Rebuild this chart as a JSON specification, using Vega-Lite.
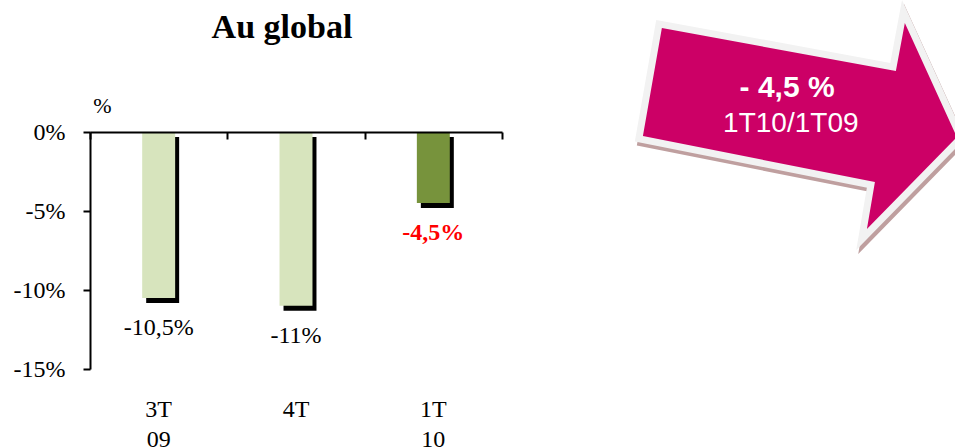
{
  "$schema": "https://vega.github.io/schema/vega-lite/v6.json",
  "autosize": "none",
  "width": 412,
  "height": 237,
  "padding": {"left": 90, "top": 132, "right": 453, "bottom": 79},
  "background": "white",
  "config": {"view": {"stroke": null}},
  "datasets": {
    "bars": [
      {"q": "3T 09", "v": -10.5, "lbl": "-10,5%"},
      {"q": "4T", "v": -11, "lbl": "-11%"},
      {"q": "1T 10", "v": -4.5, "lbl": "-4,5%"}
    ],
    "arrow": [
      {"x": 172.3, "y": 102.5}
    ],
    "notes": [
      {"t": "Au global", "x": 46.6, "y": 139.7, "kind": "title"},
      {"t": "- 4,5 %", "x": 169.2, "y": 114.8, "kind": "value"},
      {"t": "1T10/1T09", "x": 170.1, "y": 100, "kind": "period"}
    ]
  },
  "layer": [
    {
      "data": {"name": "bars"},
      "layer": [
        {
          "mark": {"type": "bar", "color": "black", "xOffset": 4, "yOffset": 5, "width": {"band": 0.24}},
          "encoding": {
            "x": {
              "field": "q", "type": "nominal", "sort": null,
              "scale": {"domain": ["3T 09", "4T", "1T 10"], "paddingInner": 0, "paddingOuter": 0},
              "axis": {"orient": "top", "labels": false, "title": null, "domain": true, "domainColor": "black", "domainWidth": 2, "ticks": true, "tickSize": -7, "tickWidth": 2, "tickColor": "black", "tickBand": "extent", "grid": false, "zindex": 1}
            },
            "y": {
              "field": "v", "type": "quantitative",
              "scale": {"domain": [-15, 0], "nice": false},
              "axis": {"values": [0, -5, -10, -15], "labelExpr": "datum.value + '%'", "grid": false, "domain": true, "domainColor": "black", "domainWidth": 2, "ticks": true, "tickSize": 7, "tickWidth": 2, "tickColor": "black", "labelFont": "Liberation Serif", "labelFontSize": 24, "labelColor": "black", "labelPadding": 18, "labelFlush": false, "labelOverlap": false, "title": "%", "titleAngle": 0, "titleX": 12, "titleY": -27, "titleAlign": "center", "titleBaseline": "middle", "titleFont": "Liberation Serif", "titleFontSize": 22, "titleFontWeight": "normal", "titleColor": "black", "zindex": 1}
            }
          }
        },
        {
          "mark": {"type": "bar", "width": {"band": 0.24}},
          "encoding": {
            "x": {
              "field": "q", "type": "nominal", "sort": null,
              "axis": {"orient": "bottom", "title": null, "domain": false, "ticks": false, "tickSize": 0, "grid": false, "labelPadding": 28, "labelAngle": 0, "labelExpr": "split(datum.label, ' ')", "labelFont": "Liberation Serif", "labelFontSize": 24, "labelColor": "black", "labelLineHeight": 30}
            },
            "y": {"field": "v", "type": "quantitative", "axis": null},
            "color": {"condition": {"test": "datum.q === '1T 10'", "value": "#77933C"}, "value": "#D7E4BD"}
          }
        },
        {
          "transform": [{"filter": "datum.q !== '1T 10'"}],
          "mark": {"type": "text", "dy": 30, "baseline": "middle", "align": "center", "font": "Liberation Serif", "fontSize": 24, "color": "black"},
          "encoding": {
            "x": {"field": "q", "type": "nominal", "sort": null, "axis": null},
            "y": {"field": "v", "type": "quantitative", "axis": null},
            "text": {"field": "lbl"}
          }
        },
        {
          "transform": [{"filter": "datum.q === '1T 10'"}],
          "mark": {"type": "text", "dy": 30, "baseline": "middle", "align": "center", "font": "Liberation Serif", "fontSize": 24, "fontWeight": "bold", "color": "#FF0000"},
          "encoding": {
            "x": {"field": "q", "type": "nominal", "sort": null, "axis": null},
            "y": {"field": "v", "type": "quantitative", "axis": null},
            "text": {"field": "lbl"}
          }
        }
      ],
      "resolve": {"axis": {"x": "independent", "y": "independent"}}
    },
    {
      "layer": [
        {
          "data": {"name": "arrow"},
          "mark": {"type": "point", "shape": "M-0.8625,-0.6125L0.6,-0.344L0.656,-0.644L0.981,0.069L0.419,0.644L0.469,0.35L-0.981,0.0625Z", "size": 102400, "filled": true, "opacity": 1, "fill": "#BF9F9F", "stroke": "#BF9F9F", "strokeWidth": 14, "xOffset": 2, "yOffset": 4},
          "encoding": {
            "x": {"field": "x", "type": "quantitative", "scale": {"domain": [0, 100], "nice": false, "zero": false}, "axis": null},
            "y": {"field": "y", "type": "quantitative", "scale": {"domain": [0, 100], "nice": false, "zero": false}, "axis": null}
          }
        },
        {
          "data": {"name": "arrow"},
          "mark": {"type": "point", "shape": "M-0.8625,-0.6125L0.6,-0.344L0.656,-0.644L0.981,0.069L0.419,0.644L0.469,0.35L-0.981,0.0625Z", "size": 102400, "filled": true, "opacity": 1, "fill": "#F2F2F2", "stroke": "#F2F2F2", "strokeWidth": 14},
          "encoding": {
            "x": {"field": "x", "type": "quantitative", "axis": null},
            "y": {"field": "y", "type": "quantitative", "axis": null}
          }
        },
        {
          "data": {"name": "arrow"},
          "mark": {"type": "point", "shape": "M-0.8625,-0.6125L0.6,-0.344L0.656,-0.644L0.981,0.069L0.419,0.644L0.469,0.35L-0.981,0.0625Z", "size": 102400, "filled": true, "opacity": 1, "fill": "#CC0066", "strokeWidth": 0},
          "encoding": {
            "x": {"field": "x", "type": "quantitative", "axis": null},
            "y": {"field": "y", "type": "quantitative", "axis": null}
          }
        },
        {
          "data": {"name": "notes"},
          "transform": [{"filter": "datum.kind === 'title'"}],
          "mark": {"type": "text", "align": "center", "baseline": "alphabetic", "font": "Liberation Serif", "fontSize": 34, "fontWeight": "bold", "color": "black"},
          "encoding": {
            "x": {"field": "x", "type": "quantitative", "axis": null},
            "y": {"field": "y", "type": "quantitative", "axis": null},
            "text": {"field": "t"}
          }
        },
        {
          "data": {"name": "notes"},
          "transform": [{"filter": "datum.kind === 'value'"}],
          "mark": {"type": "text", "align": "center", "baseline": "alphabetic", "font": "Liberation Sans", "fontSize": 30, "fontWeight": "bold", "color": "white"},
          "encoding": {
            "x": {"field": "x", "type": "quantitative", "axis": null},
            "y": {"field": "y", "type": "quantitative", "axis": null},
            "text": {"field": "t"}
          }
        },
        {
          "data": {"name": "notes"},
          "transform": [{"filter": "datum.kind === 'period'"}],
          "mark": {"type": "text", "align": "center", "baseline": "alphabetic", "font": "Liberation Sans", "fontSize": 28, "color": "white"},
          "encoding": {
            "x": {"field": "x", "type": "quantitative", "axis": null},
            "y": {"field": "y", "type": "quantitative", "axis": null},
            "text": {"field": "t"}
          }
        }
      ]
    }
  ],
  "resolve": {"scale": {"x": "independent", "y": "independent"}}
}
